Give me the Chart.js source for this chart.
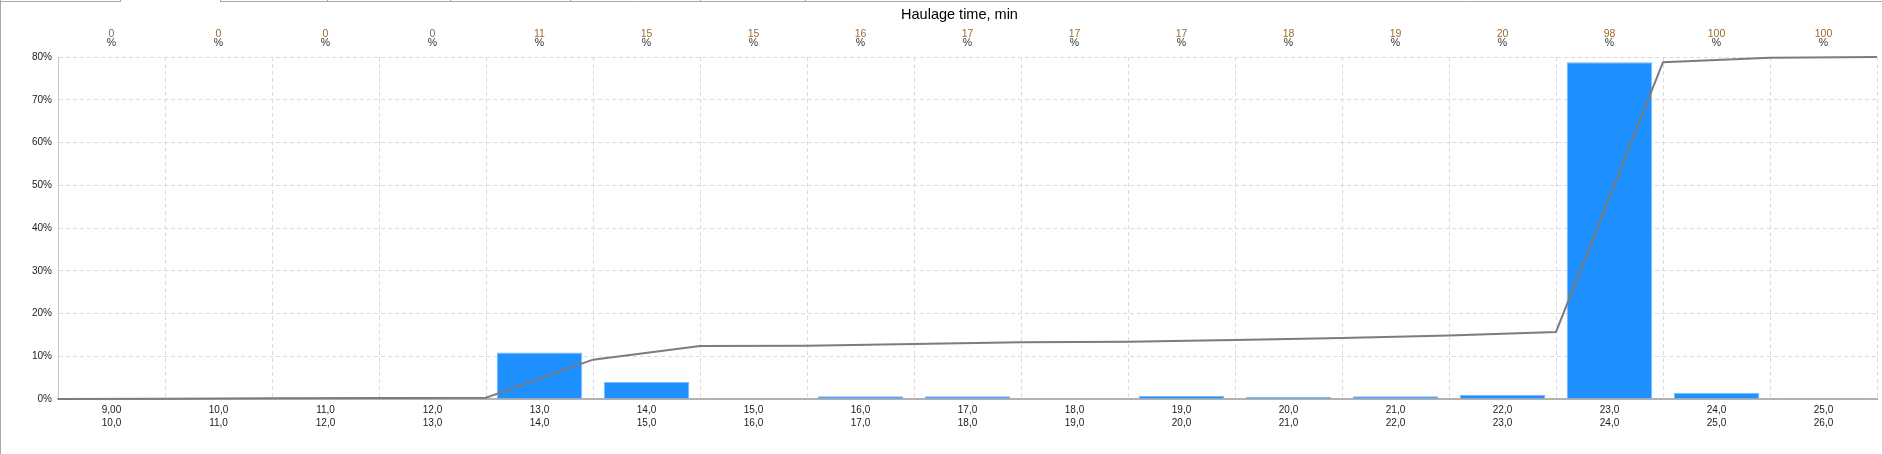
<!DOCTYPE html>
<html>
<head>
<meta charset="utf-8">
<script src="https://cdn.jsdelivr.net/npm/chart.js@4.4.1/dist/chart.umd.min.js"></script>
<style>
  html, body { margin: 0; padding: 0; background: #fff; overflow: hidden; }
  #wrap { position: relative; width: 1882px; height: 454px; }
  canvas { display: block; }
</style>
</head>
<body>
<div id="wrap"><canvas id="chart" width="1882" height="454" style="width:1882px;height:454px"></canvas></div>
<script>
// bins of haulage time, min
const binFrom = ['9,00','10,0','11,0','12,0','13,0','14,0','15,0','16,0','17,0','18,0','19,0','20,0','21,0','22,0','23,0','24,0','25,0'];
const binTo   = ['10,0','11,0','12,0','13,0','14,0','15,0','16,0','17,0','18,0','19,0','20,0','21,0','22,0','23,0','24,0','25,0','26,0'];
// share of trips per bin, %
const share = [0.2, 0, 0, 0, 10.9, 4.0, 0.05, 0.65, 0.65, 0.1, 0.75, 0.5, 0.65, 1.0, 78.8, 1.45, 0.15];
// cumulative share, drawn at bin edges (0..100 scale)
const edges    = [9, 10, 11, 12, 13, 14, 15, 16, 17, 18, 19, 20, 21, 22, 23, 24, 25, 26];
const cumShare = [0, 0.1, 0.25, 0.3, 0.4, 11.5, 15.5, 15.6, 16.1, 16.6, 16.75, 17.25, 17.8, 18.6, 19.6, 98.5, 99.8, 100];
// cumulative labels printed above each bin
const cumLabels = ['0','0','0','0','11','15','15','16','17','17','17','18','19','20','98','100','100'];

const FONT = "'Liberation Sans', Arial, sans-serif";
const GRID = '#dadada';

const decor = {
  id: 'decor',
  beforeDraw(chart) {
    const c = chart.ctx;
    c.save();
    c.strokeStyle = '#a8a8a8'; c.lineWidth = 1;
    // tab strip remnants at the very top + left frame
    c.beginPath();
    c.moveTo(0, 1.5); c.lineTo(120, 1.5);
    c.moveTo(220, 1.5); c.lineTo(1882, 1.5);
    [120, 220, 327, 450, 570, 700, 805].forEach(x => { c.moveTo(x + 0.5, 0); c.lineTo(x + 0.5, 2); });
    c.moveTo(0.5, 0); c.lineTo(0.5, 454);
    c.stroke();
    c.restore();
  },
  afterDraw(chart) {
    const c = chart.ctx, xs = chart.scales.x, a = chart.chartArea;
    c.save();
    c.fillStyle = '#000';
    c.font = `14.5px ${FONT}`;
    c.textAlign = 'center'; c.textBaseline = 'alphabetic';
    c.fillText('Haulage time, min', (a.left + a.right) / 2 - 8, 19);
    c.font = `10.5px ${FONT}`;
    cumLabels.forEach((t, i) => {
      const x = xs.getPixelForValue(i);
      c.fillStyle = '#a0682c';
      c.fillText(t, x, 37);
      c.fillStyle = '#333';
      c.fillText('%', x, 46);
    });
    c.restore();
  }
};

new Chart(document.getElementById('chart'), {
  type: 'bar',
  data: {
    labels: binFrom.map((f, i) => [f, binTo[i]]),
    datasets: [
      {
        type: 'line', order: 0, xAxisID: 'x2', yAxisID: 'y2',
        data: edges.map((e, i) => ({ x: e, y: cumShare[i] })),
        borderColor: '#7c7c7c', borderWidth: 2, pointRadius: 0, tension: 0, fill: false, clip: 4
      },
      {
        type: 'bar', order: 1, xAxisID: 'x', yAxisID: 'y',
        data: share, grouped: false,
        backgroundColor: '#1e90ff', borderColor: '#7dbcfb', borderWidth: 1,
        barPercentage: 0.8, categoryPercentage: 1.0
      }
    ]
  },
  options: {
    responsive: false, devicePixelRatio: 1, animation: false,
    layout: { padding: { top: 57, right: 5, left: 0, bottom: 0 } },
    plugins: { legend: { display: false }, tooltip: { enabled: false }, title: { display: false } },
    scales: {
      x: {
        type: 'category', offset: true,
        grid: { color: GRID, offset: true, drawTicks: false },
        border: { display: true, color: '#b2b2b2', width: 2, dash: [4, 3] },
        ticks: { color: '#1a1a1a', font: { family: FONT, size: 10, lineHeight: 1.25 }, padding: 5, maxRotation: 0, autoSkip: false },
        afterFit: s => { s.height = 55; }
      },
      y: {
        min: 0, max: 80,
        grid: { color: GRID, drawTicks: false },
        border: { display: true, color: '#c4c4c4', width: 1, dash: [4, 3] },
        ticks: { stepSize: 10, color: '#1a1a1a', font: { family: FONT, size: 10 }, padding: 6, callback: v => v + '%' },
        afterFit: s => { s.width = 58; }
      },
      x2: { type: 'linear', min: 9, max: 26, offset: false, display: false, grid: { offset: false } },
      y2: { type: 'linear', min: 0, max: 100, display: false, position: 'right' }
    }
  },
  plugins: [decor]
});
</script>
</body>
</html>
